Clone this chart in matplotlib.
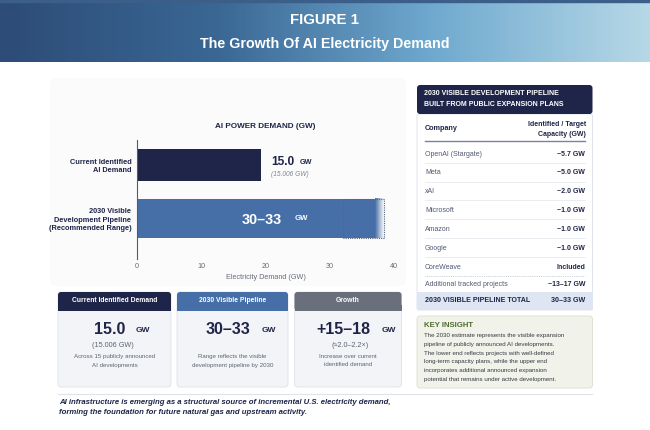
import numpy as np
import matplotlib
matplotlib.use('Agg')
import matplotlib.pyplot as plt
from matplotlib.patches import Rectangle, FancyBboxPatch
from matplotlib.colors import LinearSegmentedColormap, to_rgb

# ---- data ----
bar_labels = ['Current Identified\nAI Demand', '2030 Visible\nDevelopment Pipeline\n(Recommended Range)']
bar_lengths = [19.3, 37.0]          # drawn bar lengths on the GW axis
bar_fade_end = 38.3                 # pipeline bar fades out here
range_box = (32.0, 38.5)            # dotted "range" box on pipeline bar
x_ticks = [0, 10, 20, 30, 40]

companies = ['OpenAI (Stargate)', 'Meta', 'xAI', 'Microsoft', 'Amazon',
             'Google', 'CoreWeave', 'Additional tracked projects']
capacity = ['~5.7 GW', '~5.0 GW', '~2.0 GW', '~1.0 GW', '~1.0 GW',
            '~1.0 GW', 'Included', '~13\u201317 GW']
pipeline_total = '30\u201333 GW'

card_titles = ['Current Identified Demand', '2030 Visible Pipeline', 'Growth']
card_values = ['15.0', '30\u201333', '+15\u201318']
card_sub = ['(15.006 GW)', '', '(\u22482.0\u20132.2\u00d7)']
card_notes = [['Across 15 publicly announced', 'AI developments'],
              ['Range reflects the visible', 'development pipeline by 2030'],
              ['Increase over current', 'identified demand']]

insight_lines = ['The 2030 estimate represents the visible expansion',
                 'pipeline of publicly announced AI developments.',
                 'The lower end reflects projects with well-defined',
                 'long-term capacity plans, while the upper end',
                 'incorporates additional announced expansion',
                 'potential that remains under active development.']

NAVY = '#1f2548'
BLUE = '#466ea7'
GREY = '#6a707b'
TXT = '#4b5368'
SANS = ['Liberation Sans', 'DejaVu Sans']

plt.rcParams['font.family'] = SANS

fig = plt.figure(figsize=(6.5, 4.3), dpi=100)
bg = fig.add_axes([0, 0, 1, 1])
bg.set_xlim(0, 650)
bg.set_ylim(430, 0)
bg.axis('off')


def txt(x, y, s, **kw):
    kw.setdefault('va', 'center')
    kw.setdefault('color', TXT)
    bg.text(x, y, s, **kw)


# header band with gradient
hdr = LinearSegmentedColormap.from_list('hdr', ['#2d4c77', '#3a6794', '#6fa9cf', '#b6d8e6'])
bg.imshow(np.linspace(0, 1, 300)[None, :], cmap=hdr, aspect='auto',
          extent=(0, 650, 62, 0), zorder=0)
bg.add_patch(Rectangle((0, 0), 650, 2, color='#3b5f88', zorder=1))
txt(325, 19.5, 'FIGURE 1', ha='center', color='white', fontsize=10.8, fontweight='bold')
txt(325, 44, 'The Growth Of AI Electricity Demand', ha='center', color='white',
    fontsize=10.3, fontweight='bold')

# faint panel behind the chart
bg.add_patch(FancyBboxPatch((50, 78), 356, 208, boxstyle='round,pad=0,rounding_size=6',
                            fc='#fbfbfc', ec='none', zorder=0))

# ---- bar chart ----
ax = fig.add_axes([137 / 650, 1 - 259 / 430, 257 / 650, 119 / 430])
ax.set_facecolor('none')
heights = [0.60, 0.73]
ax.barh([0], [bar_lengths[0]], height=heights[0], color=NAVY, zorder=2)
ax.barh([1], [bar_lengths[1]], height=heights[1], color=BLUE, zorder=2)
fade = np.zeros((1, 50, 4))
fade[..., :3] = to_rgb(BLUE)
fade[..., 3] = np.linspace(1, 0, 50)
ax.imshow(fade, aspect='auto', zorder=2,
          extent=(bar_lengths[1], bar_fade_end, 1 + heights[1] / 2, 1 - heights[1] / 2))
ax.add_patch(Rectangle((range_box[0], 1 - heights[1] / 2), range_box[1] - range_box[0],
                       heights[1], fill=False, ec='#5b6480', lw=0.8, ls=(0, (1, 1)), zorder=3))
ax.set_xlim(0, 40)
ax.set_ylim(1.757, -0.467)
ax.set_xticks(x_ticks)
ax.set_xticklabels([str(t) for t in x_ticks], fontsize=5.2, color='#666c78')
ax.set_yticks([0, 1])
ax.set_yticklabels(bar_labels, fontsize=5.3, fontweight='bold', color=NAVY,
                   linespacing=1.3)
ax.tick_params(axis='both', length=0, pad=4)
ax.tick_params(axis='x', pad=3)
for s in ['top', 'right', 'bottom']:
    ax.spines[s].set_visible(False)
ax.spines['left'].set_color('#555b66')
ax.spines['left'].set_linewidth(0.8)
ax.set_xlabel('Electricity Demand (GW)', fontsize=5.2, color='#666c78', labelpad=3)
ax.set_title('AI POWER DEMAND (GW)', fontsize=5.9, fontweight='bold', color=NAVY, pad=9)

ax.text(bar_lengths[0] + 1.6, -0.05, '15.0', fontsize=8.6, fontweight='bold',
        color=NAVY, va='center')
ax.text(bar_lengths[0] + 6.0, -0.04, 'GW', fontsize=5.2, fontweight='bold',
        color=NAVY, va='center')
ax.text(bar_lengths[0] + 1.6, 0.18, '(15.006 GW)', fontsize=4.8, style='italic',
        color='#80868f', va='center')
ax.text(16.3, 1.02, '30\u201333', fontsize=10.4, fontweight='bold', color='white', va='center')
ax.text(24.6, 1.0, 'GW', fontsize=5.6, fontweight='bold', color='white', va='center')

# ---- summary cards ----
card_x = [58, 177, 294.5]
card_w = [113, 111, 107]
card_colors = [NAVY, BLUE, GREY]
num_x = [110, 228, 343]
gw_x = [143, 269, 389]
for i in range(3):
    x0, w = card_x[i], card_w[i]
    bg.add_patch(FancyBboxPatch((x0, 292), w, 95, boxstyle='round,pad=0,rounding_size=3',
                                fc='#f2f4f7', ec='#dde1e8', lw=0.6, zorder=1))
    bg.add_patch(FancyBboxPatch((x0, 292), w, 18.5, boxstyle='round,pad=0,rounding_size=3',
                                fc=card_colors[i], ec='none', zorder=2))
    bg.add_patch(Rectangle((x0, 305), w, 5.5, fc=card_colors[i], ec='none', zorder=2))
    cx = x0 + w / 2
    txt(cx, 301, card_titles[i], ha='center', color='white', fontsize=4.9,
        fontweight='bold', zorder=3)
    txt(num_x[i], 330, card_values[i], ha='center', color=NAVY, fontsize=11.5,
        fontweight='bold', zorder=3)
    txt(gw_x[i], 331, 'GW', ha='center', color=NAVY, fontsize=6, fontweight='bold', zorder=3)
    if card_sub[i]:
        txt(cx - 2 + (4 if i == 2 else 0), 345.5, card_sub[i], ha='center',
            color='#5d6472', fontsize=5.2, zorder=3)
    txt(cx, 356.7, card_notes[i][0], ha='center', color='#5d6472', fontsize=4.4, zorder=3)
    txt(cx, 365, card_notes[i][1], ha='center', color='#5d6472', fontsize=4.4, zorder=3)

# ---- pipeline table ----
tx0, tw = 417, 175.5
bg.add_patch(FancyBboxPatch((tx0, 114), tw, 196, boxstyle='round,pad=0,rounding_size=2',
                            fc='white', ec='#dfe4ec', lw=0.7, zorder=1))
bg.add_patch(FancyBboxPatch((tx0, 85), tw, 29, boxstyle='round,pad=0,rounding_size=3',
                            fc=NAVY, ec='none', zorder=2))
txt(424.5, 93.5, '2030 VISIBLE DEVELOPMENT PIPELINE', color='white', fontsize=5.05,
    fontweight='bold', zorder=3)
txt(424.5, 104.5, 'BUILT FROM PUBLIC EXPANSION PLANS', color='white', fontsize=5.05,
    fontweight='bold', zorder=3)
txt(425, 128.5, 'Company', color=NAVY, fontsize=5.2, fontweight='bold', zorder=3)
txt(586, 125, 'Identified / Target', ha='right', color=NAVY, fontsize=5.0,
    fontweight='bold', zorder=3)
txt(586, 134, 'Capacity (GW)', ha='right', color=NAVY, fontsize=5.0,
    fontweight='bold', zorder=3)
bg.plot([425, 585], [141, 141], color='#7d8499', lw=1.0, zorder=3)

for i, (name, cap) in enumerate(zip(companies, capacity)):
    y = 154 + i * 18.85 if i < 7 else 284
    txt(425, y, name, color='#515a73', fontsize=5.0, zorder=3)
    txt(585, y, cap, ha='right', color=NAVY, fontsize=5.0, fontweight='bold', zorder=3)
    if i < 6:
        bg.plot([425, 585], [y + 8.7, y + 8.7], color='#e6e9ef', lw=0.6, zorder=3)
    elif i == 6:
        bg.plot([425, 585], [275.7, 275.7], color='#b9bfcc', lw=0.6, ls=(0, (1, 1.2)), zorder=3)
bg.add_patch(Rectangle((tx0, 291.7), tw, 18.3, fc='#dde6f2', ec='none', zorder=2))
txt(425, 300.8, '2030 VISIBLE PIPELINE TOTAL', color=NAVY, fontsize=5.1,
    fontweight='bold', zorder=3)
txt(585, 300.8, pipeline_total, ha='right', color=NAVY, fontsize=5.1,
    fontweight='bold', zorder=3)

# ---- key insight ----
bg.add_patch(FancyBboxPatch((tx0, 316), tw, 72, boxstyle='round,pad=0,rounding_size=3',
                            fc='#f1f2e9', ec='#dfe2d2', lw=0.7, zorder=1))
txt(424, 325.7, 'KEY INSIGHT', color='#4e6c2e', fontsize=5.6, fontweight='bold', zorder=3)
for i, line in enumerate(insight_lines):
    txt(424, 335.8 + i * 8.65, line, color='#353a45', fontsize=4.45, zorder=3)

# ---- footer ----
bg.plot([58, 592], [393.5, 393.5], color='#dfe3ea', lw=0.8)
txt(59, 402.5, 'AI infrastructure is emerging as a structural source of incremental U.S. electricity demand,',
    color=NAVY, fontsize=5.55, fontweight='bold', style='italic')
txt(59, 412.5, 'forming the foundation for future natural gas and upstream activity.',
    color=NAVY, fontsize=5.55, fontweight='bold', style='italic')

fig.savefig('out.png', dpi=100)
